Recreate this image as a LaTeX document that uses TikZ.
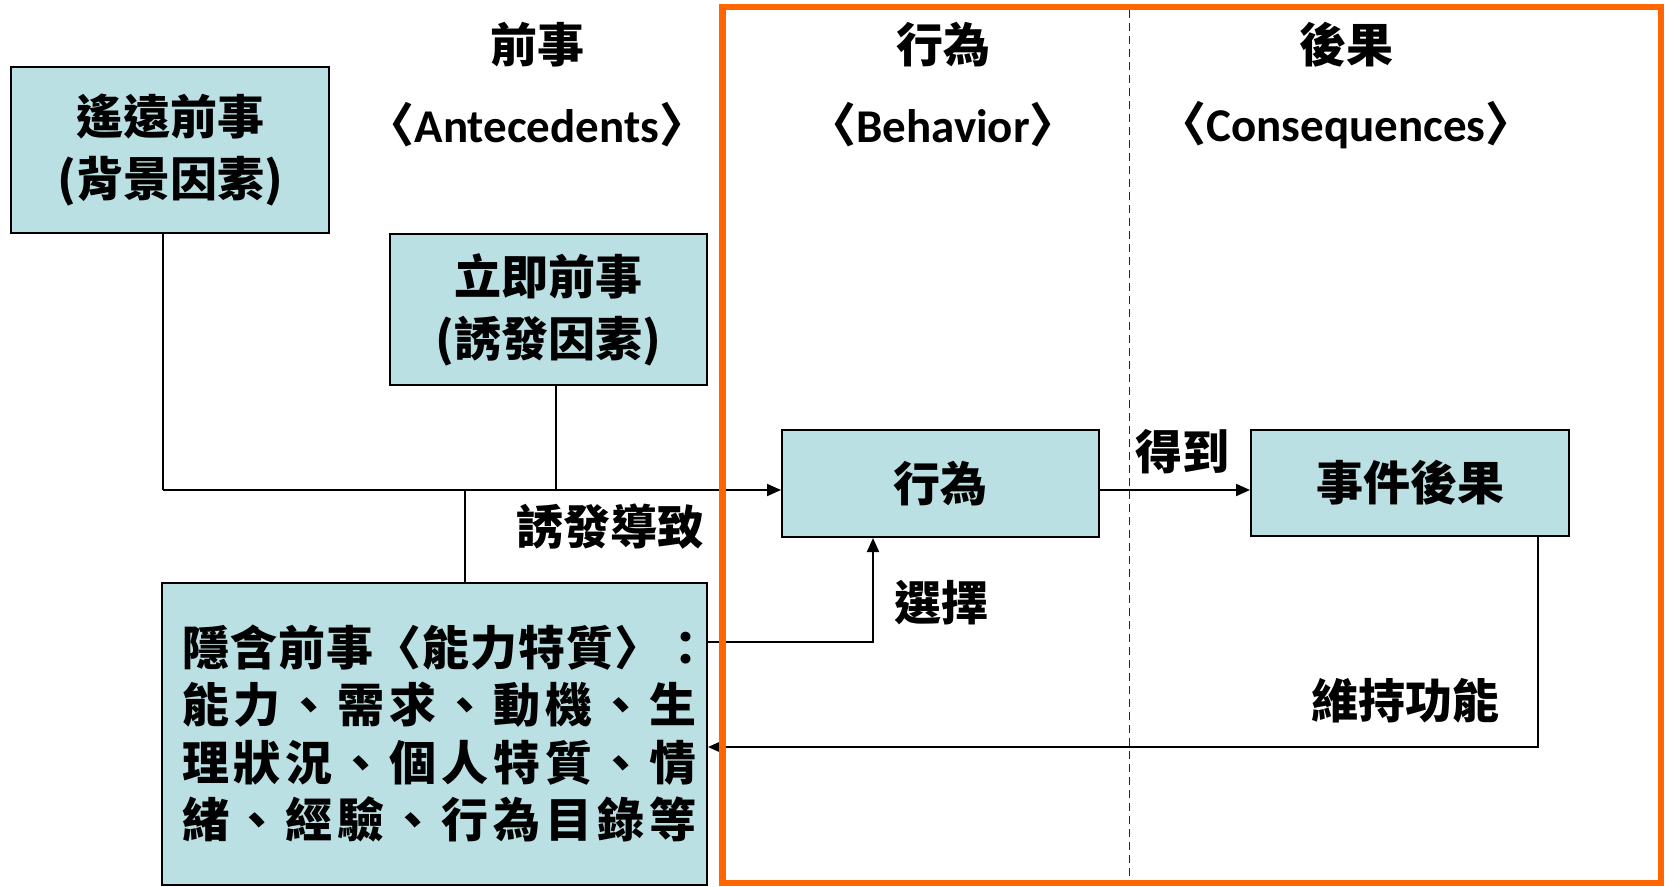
\documentclass[tikz,border=0pt]{standalone}
\usepackage{fontspec}
\setmainfont{Noto Sans CJK TC}
\newfontfamily\lat{Carlito}
\usetikzlibrary{arrows.meta}
\definecolor{boxfill}{HTML}{BBE0E3}
\definecolor{frameor}{HTML}{FF6600}
\newcommand\myfs{\fontsize{47}{62}\selectfont}
\newcommand\myfsb{\fontsize{47}{57.5}\selectfont}
\newcommand\wideA{\addfontfeatures{LetterSpace=2.3}}
\newcommand\wideB{\addfontfeatures{LetterSpace=10.6}}
\begin{document}
\begin{tikzpicture}[x=1pt,y=-1pt,
  box/.style={draw=black, line width=2pt, fill=boxfill, inner sep=0pt, align=center, font=\myfs\bfseries},
  conn/.style={draw=black, line width=2pt},
  arr/.style={conn, -{Triangle[length=14pt,width=12pt]}},
  lbl/.style={font=\myfs\bfseries, inner sep=0pt},
  sep/.style={draw=black!85, line width=1.5pt, dash pattern=on 8pt off 5pt},
  frame/.style={draw=frameor, line width=6.5pt}
]
\useasboundingbox (0,0) rectangle (1667,886);

% boxes
\node[box, minimum width=318pt, minimum height=166pt] (b1) at (170,150) {遙遠前事\\(背景因素)};
\node[box, minimum width=317pt, minimum height=151pt] (b2) at (548.5,309.5) {立即前事\\(誘發因素)};
\node[box, minimum width=317pt, minimum height=107pt] (b3) at (940.5,483.5) {行為};
\node[box, minimum width=318pt, minimum height=106pt] (b4) at (1410,483) {事件後果};
\node[box, minimum width=545pt, minimum height=302pt, text width=505pt, align=left, font=\myfsb\bfseries] (b5) at (434.5,733.5)
  {{\wideA 隱含前事〈能力特質〉：}\\{\wideB 能力、需求、動機、生}\\{\wideB 理狀況、個人特質、情}\\{\wideB 緒、經驗、行為目錄等}};

% connectors
\coordinate (j1) at (163,490);
\coordinate (j2) at (556,490);
\coordinate (j3) at (465,490);
\coordinate (s1) at (873,642);
\coordinate (r1) at (1538,747);
\draw[conn] (b1.south -| j1) -- (j1);
\draw[arr] (j1) -- (b3.west |- j1);
\draw[conn] (b2.south -| j2) -- (j2);
\draw[conn] (j3) -- (b5.north -| j3);
\draw[arr] (b3.east |- j1) -- (b4.west |- j1);
\draw[arr] (b5.east |- s1) -| (b3.south -| s1);
\draw[arr] (b4.south -| r1) |- (b5.east |- r1);

% labels
\node[lbl] (l1) at (610,527) {誘發導致};
\node[lbl] (l2) at (1182,452) {得到};
\node[lbl] (l3) at (941,603) {選擇};
\node[lbl] (l4) at (1405,701) {維持功能};

% headers
\node[lbl] (h1) at (537,45) {前事};
\node[lbl] (h1e) at (537,125) {〈{\lat Antecedents}〉};
\node[lbl] (h2) at (943,45) {行為};
\node[lbl] (h2e) at (943,125) {〈{\lat Behavior}〉};
\node[lbl] (h3) at (1346,45) {後果};
\node[lbl] (h3e) at (1346,125) {〈{\lat Consequences}〉};

% frame and separator
\draw[sep] (1129.5,10) -- (1129.5,880);
\draw[frame] (722.5,7) rectangle (1661,883);
\end{tikzpicture}
\end{document}
